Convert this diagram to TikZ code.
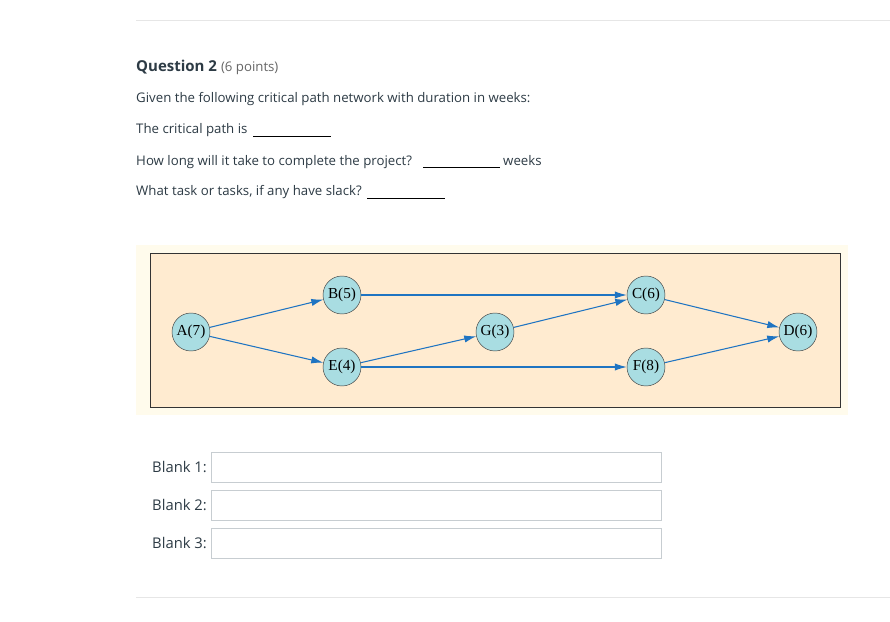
\documentclass[tikz,border=0pt]{standalone}
\usepackage{fontspec}
\usetikzlibrary{arrows.meta}
\setmainfont{Open Sans}
\newfontfamily\netfont{Liberation Serif}
\definecolor{txtgray}{HTML}{2D3B45}
\definecolor{rulegray}{HTML}{E6E6E6}
\definecolor{boxgray}{HTML}{C7CDD1}
\definecolor{paleback}{HTML}{FFFBEC}
\definecolor{netback}{HTML}{FFEBD0}
\definecolor{nodecyan}{HTML}{A9DDE2}
\definecolor{arrowblue}{HTML}{1F74C2}
\begin{document}
\begin{tikzpicture}[x=0.3mm,y=-0.3mm]
\tikzstyle{task}=[circle,draw=black!75,fill=nodecyan,minimum size=11.4mm,inner sep=0pt,font=\netfont\fontsize{13}{15}\selectfont]
\tikzstyle{link}=[draw=arrowblue,line width=0.9pt,-{Latex[length=3.6mm,width=2.2mm]}]
\tikzstyle{line}=[anchor=base west,text=txtgray,font=\fontsize{11.3}{13}\selectfont,inner sep=0pt]
\tikzstyle{blank}=[draw=boxgray,line width=0.8pt]
\useasboundingbox (0,0) rectangle (890,622);
\fill[white] (0,0) rectangle (890,622);
% page rules
\draw[rulegray] (136,20) -- (890,20);
\draw[rulegray] (136,597) -- (890,597);
% question text
\node[line,font=\bfseries\fontsize{12.8}{15}\selectfont](q) at (136,72) {Question 2};
\node[line,text=black!60](pts) at ([xshift=3pt]q.base east) {(6 points)};
\node[line](l1) at (136,103) {Given the following critical path network with duration in weeks:};
\node[line](l2) at (136,134) {The critical path is};
\node[line](l3) at (136,165) {How long will it take to complete the project?};
\node[line](l4) at (136,196) {What task or tasks, if any have slack?};
\draw[black,line width=0.6pt] (253,136) -- (331,136);
\draw[black,line width=0.6pt] (423,167) -- (500,167);
\node[line](wk) at (503,165) {weeks};
\draw[black,line width=0.6pt] (367,198) -- (445,198);
% network figure
\fill[paleback] (136,245) rectangle (848,415);
\draw[fill=netback,draw=black!80,line width=0.7pt] (150,253) rectangle (840,407);
\node[task](a) at (191,332) {A(7)};
\node[task](b) at (342,295) {B(5)};
\node[task](e) at (342,367) {E(4)};
\node[task](g) at (495,332) {G(3)};
\node[task](c) at (646,295) {C(6)};
\node[task](f) at (646,367) {F(8)};
\node[task](d) at (798,332) {D(6)};
\draw[link] (a) -- (b);
\draw[link] (a) -- (e);
\draw[link] (b) -- (c);
\draw[link] (e) -- (g);
\draw[link] (e) -- (f);
\draw[link] (g) -- (c);
\draw[link] (c) -- (d);
\draw[link] (f) -- (d);
% answer boxes
\draw[blank] (211,452) rectangle (661,482);
\draw[blank] (211,490) rectangle (661,520);
\draw[blank] (211,528) rectangle (661,558);
\node[line,anchor=base east,font=\fontsize{12.6}{15}\selectfont](k1) at (207,472) {Blank 1:};
\node[line,anchor=base east,font=\fontsize{12.6}{15}\selectfont](k2) at (207,510) {Blank 2:};
\node[line,anchor=base east,font=\fontsize{12.6}{15}\selectfont](k3) at (207,548) {Blank 3:};
\end{tikzpicture}
\end{document}
